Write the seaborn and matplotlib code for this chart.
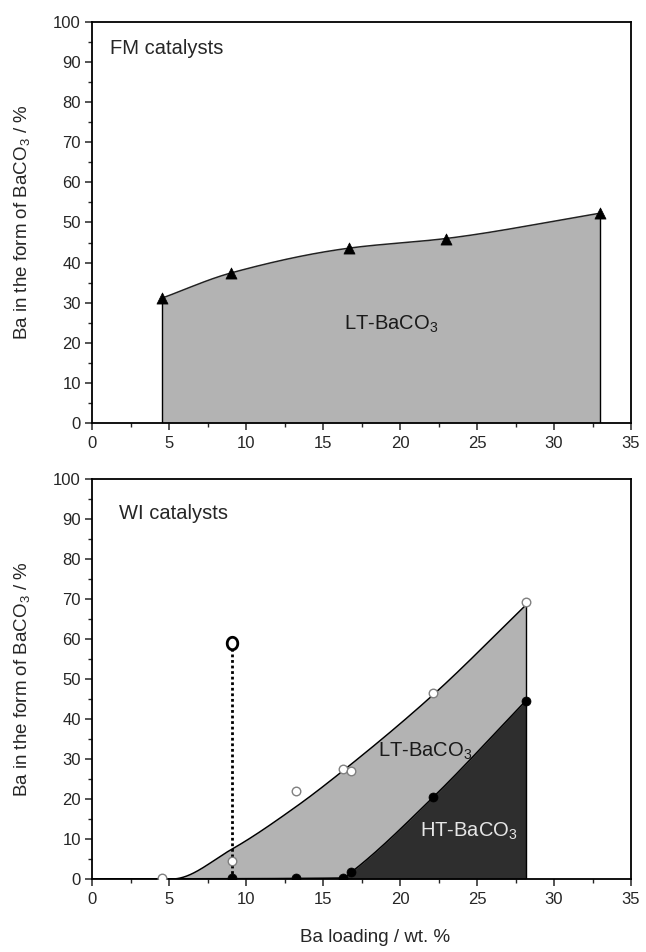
import numpy as np
import pandas as pd
import matplotlib
matplotlib.use("Agg")
import matplotlib.pyplot as plt
from matplotlib.path import Path
from matplotlib.ticker import MultipleLocator
import seaborn as sns

# ---------------- data ----------------
# FM catalysts (top panel), LT-BaCO3 share
fm_x = [4.52, 9.01, 16.68, 22.97, 32.97]
fm_lt = [31.1, 37.4, 43.6, 46.0, 52.3]

# WI catalysts (bottom panel)
wi_x = [4.57, 9.06, 13.26, 16.28, 16.80, 22.14, 28.18]
wi_total = [0.25, 4.4, 21.9, 27.5, 27.1, 46.5, 69.2]     # open circles
wi_ht_x = [9.06, 13.26, 16.28, 16.82, 22.14, 28.18]
wi_ht = [0.25, 0.25, 0.25, 1.66, 20.4, 44.6]            # filled circles
outlier_x = [9.06]
outlier_y = [58.9]

# fitted guide curves
lt_fit_x = [0.0, 5.2, 9.06, 13.26, 16.28, 22.14, 28.18]
lt_fit_y = [0.0, 0.0, 7.4, 18.1, 27.0, 46.0, 68.5]
ht_fit_x = [0.0, 16.3, 16.82, 22.14, 28.18]
ht_fit_y = [0.0, 0.25, 1.66, 20.4, 44.6]

x_ticks = [0, 5, 10, 15, 20, 25, 30, 35]
y_ticks = [0, 10, 20, 30, 40, 50, 60, 70, 80, 90, 100]


def pchip(x, y, xs):
    x = np.asarray(x, float)
    y = np.asarray(y, float)
    xs = np.asarray(xs, float)
    h = np.diff(x)
    d = np.diff(y) / h
    m = np.zeros_like(y)
    for k in range(1, len(x) - 1):
        if d[k - 1] * d[k] > 0:
            w1 = 2 * h[k] + h[k - 1]
            w2 = h[k] + 2 * h[k - 1]
            m[k] = (w1 + w2) / (w1 / d[k - 1] + w2 / d[k])
        else:
            m[k] = 0.0
    m[0] = d[0]
    m[-1] = d[-1]
    idx = np.clip(np.searchsorted(x, xs) - 1, 0, len(h) - 1)
    t = (xs - x[idx]) / h[idx]
    h00 = 2 * t**3 - 3 * t**2 + 1
    h10 = t**3 - 2 * t**2 + t
    h01 = -2 * t**3 + 3 * t**2
    h11 = t**3 - t**2
    return (h00 * y[idx] + h10 * h[idx] * m[idx]
            + h01 * y[idx + 1] + h11 * h[idx] * m[idx + 1])


# ---------------- style ----------------
sns.set_style("ticks")
plt.rcParams["font.family"] = ["Liberation Sans", "DejaVu Sans"]
plt.rcParams["mathtext.fontset"] = "custom"
plt.rcParams["mathtext.rm"] = "Liberation Sans"
plt.rcParams["mathtext.it"] = "Liberation Sans"
plt.rcParams["axes.linewidth"] = 1.3
plt.rcParams["xtick.major.width"] = 1.1
plt.rcParams["ytick.major.width"] = 1.1
plt.rcParams["xtick.minor.width"] = 1.0
plt.rcParams["ytick.minor.width"] = 1.0
plt.rcParams["xtick.major.size"] = 5
plt.rcParams["ytick.major.size"] = 5
plt.rcParams["xtick.minor.size"] = 3
plt.rcParams["ytick.minor.size"] = 3
plt.rcParams["xtick.direction"] = "out"
plt.rcParams["ytick.direction"] = "out"

LIGHT = "#b3b3b3"
DARK = "#2e2e2e"
BACO3 = "BaCO$_{\\mathrm{3}}$"
TICK_FS = 12
LABEL_FS = 13.5
TEXT_FS = 14.5

fig = plt.figure(figsize=(6.46, 9.52), dpi=100)
ax1 = fig.add_axes([92 / 646, (952 - 423) / 952, 539 / 646, 401 / 952])
ax2 = fig.add_axes([92 / 646, (952 - 879) / 952, 539 / 646, 400 / 952])


def style_axes(ax):
    ax.set_xlim(0, 35)
    ax.set_ylim(0, 100)
    ax.set_xticks(x_ticks)
    ax.set_yticks(y_ticks)
    ax.xaxis.set_minor_locator(MultipleLocator(2.5))
    ax.yaxis.set_minor_locator(MultipleLocator(5))
    ax.tick_params(labelsize=TICK_FS, top=False, right=False, which="both")
    ax.tick_params(axis="x", pad=4)
    ax.tick_params(axis="y", pad=3)
    for s in ax.spines.values():
        s.set_visible(True)
        s.set_color("black")
    ax.set_ylabel("Ba in the form of " + BACO3 + " / %", fontsize=LABEL_FS,
                  va="center")
    ax.yaxis.set_label_coords(-0.13, 0.5)


# ---------------- top panel ----------------
xs_top = np.linspace(fm_x[0], fm_x[-1], 300)
ys_top = pchip(fm_x, fm_lt, xs_top)
ax1.fill_between(xs_top, 0, ys_top, color=LIGHT, lw=0, zorder=1)
sns.lineplot(x=xs_top, y=ys_top, ax=ax1, color="#222222", lw=1.1,
             estimator=None, sort=False, zorder=2)
ax1.plot([fm_x[0], fm_x[0]], [0, fm_lt[0]], color="black", lw=1.0, zorder=2)
ax1.plot([fm_x[-1], fm_x[-1]], [0, fm_lt[-1]], color="black", lw=1.0, zorder=2)
sns.scatterplot(x=fm_x, y=fm_lt, ax=ax1, marker="^", s=64, color="black",
                edgecolor="black", linewidth=0.5, zorder=3)
ax1.text(1.15, 93.4, "FM catalysts", fontsize=TEXT_FS, va="center", ha="left")
ax1.text(19.4, 24.5, "LT-" + BACO3, fontsize=TEXT_FS, va="center", ha="center",
         color="#1a1a1a")
style_axes(ax1)
ax1.set_xlabel("")

# ---------------- bottom panel ----------------
xs_lt = np.linspace(lt_fit_x[0], lt_fit_x[-1], 500)
ys_lt = pchip(lt_fit_x, lt_fit_y, xs_lt)
xs_ht = np.linspace(ht_fit_x[1], ht_fit_x[-1], 300)
ys_ht = pchip(ht_fit_x, ht_fit_y, xs_ht)
xs_ht0 = np.linspace(ht_fit_x[0], ht_fit_x[-1], 500)
ys_ht0 = pchip(ht_fit_x, ht_fit_y, xs_ht0)

ax2.fill_between(xs_lt, 0, ys_lt, color=LIGHT, lw=0, zorder=1)
ax2.fill_between(xs_ht, 0, ys_ht, color=DARK, lw=0, zorder=1.1)
sns.lineplot(x=xs_lt, y=ys_lt, ax=ax2, color="black", lw=1.1,
             estimator=None, sort=False, zorder=2)
sns.lineplot(x=xs_ht0, y=ys_ht0, ax=ax2, color="black", lw=1.1,
             estimator=None, sort=False, zorder=2)
ax2.plot([lt_fit_x[-1], lt_fit_x[-1]], [0, lt_fit_y[-1]], color="black",
         lw=1.0, zorder=2)

# dotted drop line for the outlier
ax2.plot([outlier_x[0], outlier_x[0]], [0, outlier_y[0]], color="black",
         lw=2.0, linestyle=(0, (1, 1)), zorder=2.5)

sns.scatterplot(x=wi_x, y=wi_total, ax=ax2, marker="o", s=38,
                facecolor="white", edgecolor="#808080", linewidth=1.0,
                zorder=3)
sns.scatterplot(x=wi_ht_x, y=wi_ht, ax=ax2, marker="o", s=42,
                color="black", edgecolor="black", linewidth=0.5, zorder=3)

th = np.linspace(0, 2 * np.pi, 60)
ellipse = Path(np.column_stack([0.85 * np.cos(th), np.sin(th)]), closed=True)
sns.scatterplot(x=outlier_x, y=outlier_y, ax=ax2, marker=ellipse, s=80,
                facecolor="white", edgecolor="black", linewidth=2.0, zorder=4)

ax2.text(1.76, 91.4, "WI catalysts", fontsize=TEXT_FS, va="center", ha="left")
ax2.text(21.66, 31.8, "LT-" + BACO3, fontsize=TEXT_FS, va="center",
         ha="center", color="#1a1a1a")
ax2.text(24.5, 11.9, "HT-" + BACO3, fontsize=TEXT_FS, va="center",
         ha="center", color="#e6e6e6")
style_axes(ax2)
ax2.set_xlabel("Ba loading / wt. %", fontsize=LABEL_FS)
ax2.xaxis.set_label_coords(0.526, -0.125)

fig.savefig("out.png", dpi=100)
